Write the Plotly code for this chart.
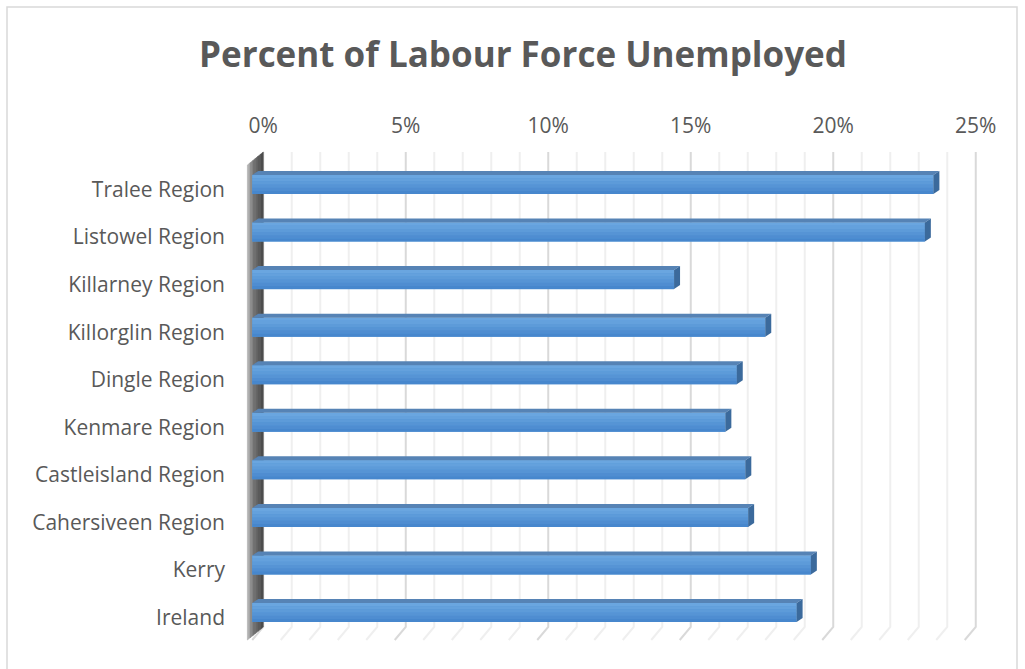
import plotly.graph_objects as go

# ---- data ----
categories = ["Tralee Region", "Listowel Region", "Killarney Region", "Killorglin Region",
              "Dingle Region", "Kenmare Region", "Castleisland Region", "Cahersiveen Region",
              "Kerry", "Ireland"]
unemployed_pct = [23.9, 23.6, 14.8, 18.0, 17.0, 16.6, 17.3, 17.4, 19.6, 19.1]
tick_values = [0, 5, 10, 15, 20, 25]
tick_labels = ["0%", "5%", "10%", "15%", "20%", "25%"]

# ---- layout geometry (pixels) ----
W, H = 1025, 669
L, R, T, B = 238, 979, 145, 645          # plot area
XR = [-0.5, 25.5]                        # x range (front plane)
PXU = (R - L) / (XR[1] - XR[0])          # px per unit
DEPTH_X = 11 / PXU                       # back-wall offset in data units
BAR_DX = 6                               # bar depth in px (x)
BAR_DY = 4                               # bar depth in px (y)
HALF = 9.5                               # half bar height px
CAT0, PITCH = 184.5, 47.56               # first category centre and spacing in px

def px2paper_x(px):
    return (px - L) / (R - L)

def px2paper_y(py):
    return (B - py) / (B - T)

GRAY = "#595959"
FONT = "Open Sans"

fig = go.Figure()

shapes = []

# outer chart border
shapes.append(dict(type="rect", xref="paper", yref="paper",
                   x0=px2paper_x(7), x1=px2paper_x(1017), y0=px2paper_y(675), y1=px2paper_y(7),
                   line=dict(color="#d9d9d9", width=1.5), fillcolor="rgba(0,0,0,0)", layer="below"))

# back-wall gridlines with floor diagonals
wall_top, wall_bot, floor_front = px2paper_y(152), px2paper_y(627), px2paper_y(640)
for v in range(0, 26):
    major = v % 5 == 0
    xb = v + DEPTH_X
    xf = v
    shapes.append(dict(type="path", xref="x", yref="paper",
                       path=f"M {xb},{wall_top} L {xb},{wall_bot} L {xf},{floor_front}",
                       line=dict(color="#d9d9d9" if major else "#efefef", width=2),
                       layer="below"))

# left side wall (shaded)
wall_cols = ["#b0b0b0", "#8c8c8c", "#737373", "#666666", "#5a5a5a", "#4d4d4d"]
x_left = -0.17
for k, c in enumerate(wall_cols):
    xa = x_left + (DEPTH_X - x_left) * k / len(wall_cols)
    xb_ = x_left + (DEPTH_X - x_left) * (k + 1) / len(wall_cols)
    fa = k / len(wall_cols)
    fb = (k + 1) / len(wall_cols)
    ya_t, yb_t = 165 - 13 * fa, 165 - 13 * fb
    ya_b, yb_b = 640 - 13 * fa, 640 - 13 * fb
    shapes.append(dict(type="path", xref="x", yref="paper",
                       path=f"M {xa},{px2paper_y(ya_t)} L {xb_},{px2paper_y(yb_t)} "
                            f"L {xb_},{px2paper_y(yb_b)} L {xa},{px2paper_y(ya_b)} Z",
                       fillcolor=c, line=dict(color=c, width=0.6), layer="below"))

# bar 3D faces (top + side) and gradient on front face
dxd = BAR_DX / PXU
grad = ["#6aa6e0", "#64a1dd", "#5d9bd9", "#5694d5", "#4f8dd1", "#4787cd"]
for i, v in enumerate(unemployed_pct):
    n = len(grad)
    for k, c in enumerate(grad):
        y1 = HALF - k * (2 * HALF / n)
        y0 = HALF - (k + 1) * (2 * HALF / n)
        shapes.append(dict(type="rect", xref="x", yref="y", ysizemode="pixel", yanchor=i,
                           x0=0, x1=v, y0=y0, y1=y1, fillcolor=c, line=dict(width=0), layer="above"))
    # top face
    shapes.append(dict(type="path", xref="x", yref="y", ysizemode="pixel", yanchor=i,
                       path=f"M 0,{HALF} L {v},{HALF} L {v+dxd},{HALF+BAR_DY} L {dxd},{HALF+BAR_DY} Z",
                       fillcolor="#5683b5", line=dict(width=0), layer="above"))
    # side face
    shapes.append(dict(type="path", xref="x", yref="y", xsizemode="pixel", ysizemode="pixel",
                       xanchor=v, yanchor=i,
                       path=f"M 0,{HALF} L {BAR_DX},{HALF+BAR_DY} L {BAR_DX},{-HALF+BAR_DY} L 0,{-HALF} Z",
                       fillcolor="#3b6a9c", line=dict(width=0), layer="above"))

fig.add_trace(go.Bar(
    x=unemployed_pct, y=categories, orientation="h", width=0.4,
    marker=dict(color="#5597d7", line=dict(width=0)),
    hovertemplate="%{y}: %{x:.1f}%<extra></extra>",
))

fig.update_layout(
    width=W, height=H,
    margin=dict(l=L, r=W - R, t=T, b=H - B, pad=0),
    paper_bgcolor="white", plot_bgcolor="rgba(0,0,0,0)",
    showlegend=False,
    shapes=shapes,
    title=dict(text="<b>Percent of Labour Force Unemployed</b>", x=523 / W, xref="container",
               xanchor="center", y=1 - 55 / H, yanchor="middle",
               font=dict(family=FONT, size=35, color=GRAY)),
    xaxis=dict(range=XR, side="top", tickvals=tick_values, ticktext=tick_labels,
               showgrid=False, zeroline=False, showline=False, ticks="",
               ticklabelshift=round(DEPTH_X * PXU), ticklabelstandoff=7,
               tickfont=dict(family=FONT, size=21, color=GRAY), fixedrange=True),
    yaxis=dict(categoryorder="array", categoryarray=categories,
               range=[(B - CAT0) / PITCH, -(CAT0 - T) / PITCH],
               showgrid=False, zeroline=False, showline=False, ticks="",
               ticklabelstandoff=12, ticklabelshift=-5,
               tickfont=dict(family=FONT, size=21, color=GRAY), fixedrange=True),
    bargap=0.6,
)

fig.write_html("out.html", post_script="document.body.style.margin='0';",
               config={"displayModeBar": False})
